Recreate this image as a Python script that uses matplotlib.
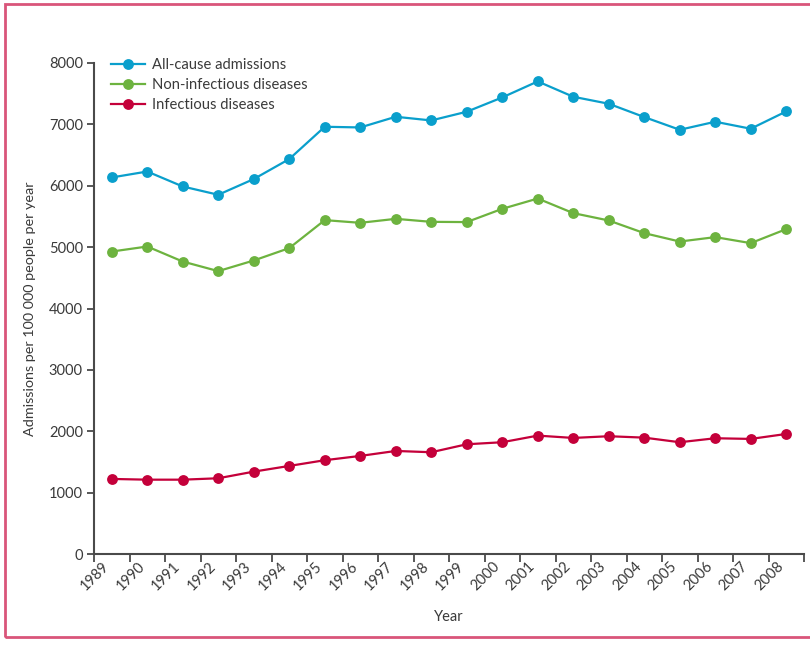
import matplotlib
matplotlib.use("Agg")
import matplotlib.pyplot as plt
from matplotlib.patches import Rectangle
import numpy as np

years = [str(y) for y in range(1989, 2009)]
all_cause = [6135, 6232, 5988, 5853, 6109, 6435, 6961, 6950, 7124, 7064,
             7206, 7439, 7700, 7450, 7336, 7119, 6912, 7043, 6929, 7211]
non_infectious = [4928, 5010, 4765, 4609, 4782, 4984, 5440, 5396, 5461, 5412,
                  5408, 5624, 5792, 5554, 5434, 5228, 5091, 5163, 5065, 5293]
infectious = [1223, 1211, 1211, 1234, 1342, 1435, 1528, 1598, 1679, 1658,
              1788, 1821, 1929, 1891, 1919, 1896, 1821, 1886, 1875, 1956]
y_ticks = [0, 1000, 2000, 3000, 4000, 5000, 6000, 7000, 8000]

plt.rcParams['font.family'] = ['Lato', 'DejaVu Sans']
text_color = '#3a3a3a'
axis_color = '#4a4a4a'

fig = plt.figure(figsize=(8.1, 6.68), dpi=100)
ax = fig.add_axes([94 / 810, 1 - 554 / 668, (804 - 94) / 810, (554 - 63) / 668])

x = np.arange(len(years))
series = [
    (all_cause, '#0a9fcc', 'All-cause admissions'),
    (non_infectious, '#6db33f', 'Non-infectious diseases'),
    (infectious, '#c4003a', 'Infectious diseases'),
]
for vals, col, lab in series:
    ax.plot(x, vals, color=col, lw=1.6, marker='o', ms=7.8,
            markeredgewidth=0, label=lab)

ax.set_xlim(-0.5, len(years) - 0.5)
ax.set_ylim(0, 8000)

# y axis
ax.set_yticks(y_ticks)
ax.set_yticklabels([str(v) for v in y_ticks])
ax.tick_params(axis='y', direction='out', length=5, width=1.3, color=axis_color,
               labelsize=10.5, labelcolor=text_color, pad=3)

# x axis: ticks between categories, labels under each category
ax.set_xticks(np.arange(len(years) + 1) - 0.5)
ax.set_xticklabels([])
ax.tick_params(axis='x', which='major', direction='out', length=6, width=1.3,
               color=axis_color)
ax.set_xticks(x, minor=True)
ax.set_xticklabels(years, minor=True, rotation=45, ha='right', va='top')
ax.tick_params(axis='x', which='minor', length=0, labelsize=10.5,
               labelcolor=text_color, pad=4)

for s in ['top', 'right']:
    ax.spines[s].set_visible(False)
for s in ['left', 'bottom']:
    ax.spines[s].set_color(axis_color)
    ax.spines[s].set_linewidth(1.5)

ax.set_xlabel('Year', fontsize=10.5, color=text_color, labelpad=12)
ax.set_ylabel('Admissions per 100 000 people per year', fontsize=10.4,
              color=text_color, labelpad=9)

leg = ax.legend(loc='upper left', bbox_to_anchor=(0.016, 1.022), frameon=False,
                fontsize=10.6, handlelength=2.3, handletextpad=0.45,
                labelspacing=0.42, borderaxespad=0)
for t in leg.get_texts():
    t.set_color(text_color)

# panel frame
fig.patches.append(Rectangle((5 / 810, 1 - 637 / 668), 2.0, (637 - 4) / 668,
                             transform=fig.transFigure, fill=False,
                             edgecolor='#d9557a', lw=2.0))

fig.savefig('out.png', dpi=100)
